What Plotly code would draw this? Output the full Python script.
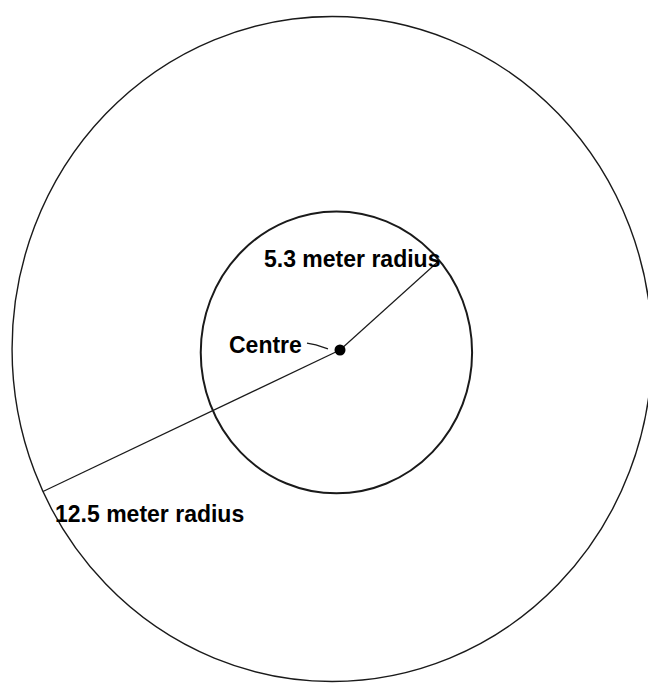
import numpy as np
import plotly.graph_objects as go

# ---- data (metres) ----
circle_names = ["outer", "inner"]
radii_m = [12.5, 5.3]
radius_angles_deg = [205.4, 40.7]          # direction of each drawn radius line
radius_labels = ["12.5 meter radius", "5.3 meter radius"]
centre_label = "Centre"

# ---- drawing layout constants ----
W, H = 648, 689
SX, SY = 25.6, 26.6                      # px per metre on x / y
CX_PX, CY_PX = 340, 350                  # pixel position of the centre dot
circle_centres = [(-0.31, 0.04), (-0.14, -0.09)]
label_pos = [(-11.21, -6.16), (-3.05, 3.43)]
centre_label_pos = (-4.41, 0.19)

x_range = [-CX_PX / SX, (W - CX_PX) / SX]
y_range = [-(H - CY_PX) / SY, CY_PX / SY]

fig = go.Figure()

shapes = []
widths = [1.4, 2.0]
for (cx, cy), r, lw in zip(circle_centres, radii_m, widths):
    shapes.append(dict(type="circle", xref="x", yref="y",
                       x0=cx - r, x1=cx + r, y0=cy - r, y1=cy + r,
                       line=dict(color="#1a1a1a", width=lw)))
fig.update_layout(shapes=shapes)

# radius lines from centre dot to each circle
for (cx, cy), r, ang in zip(circle_centres, radii_m, radius_angles_deg):
    a = np.deg2rad(ang)
    ex, ey = cx + r * np.cos(a), cy + r * np.sin(a)
    fig.add_trace(go.Scatter(x=[0, ex], y=[0, ey], mode="lines",
                             line=dict(color="#1a1a1a", width=1.2),
                             hoverinfo="skip", showlegend=False))

# small pointer from "Centre" to the dot
fig.add_trace(go.Scatter(x=[-1.29, -0.94, -0.47], y=[0.26, 0.19, 0.04], mode="lines",
                         line=dict(color="#1a1a1a", width=1.2),
                         hoverinfo="skip", showlegend=False))

# centre dot
fig.add_trace(go.Scatter(x=[0], y=[0], mode="markers",
                         marker=dict(color="black", size=11, symbol="circle"),
                         hoverinfo="skip", showlegend=False))

font = dict(family="Liberation Sans, Arial, sans-serif", size=23, color="black")
for (lx, ly), txt in zip(label_pos, radius_labels):
    fig.add_annotation(x=lx, y=ly, text="<b>" + txt + "</b>", showarrow=False,
                       xanchor="left", yanchor="middle", font=font)
fig.add_annotation(x=centre_label_pos[0], y=centre_label_pos[1],
                   text="<b>" + centre_label + "</b>", showarrow=False,
                   xanchor="left", yanchor="middle", font=font)

fig.update_xaxes(range=x_range, visible=False, showgrid=False, zeroline=False, fixedrange=True)
fig.update_yaxes(range=y_range, visible=False, showgrid=False, zeroline=False, fixedrange=True)
fig.update_layout(width=W, height=H, autosize=False,
                  margin=dict(l=0, r=0, t=0, b=0, pad=0),
                  paper_bgcolor="white", plot_bgcolor="white",
                  showlegend=False)

fig.write_html("out.html", config={"displayModeBar": False},
               post_script="document.body.style.margin='0';document.body.style.overflow='hidden';")
